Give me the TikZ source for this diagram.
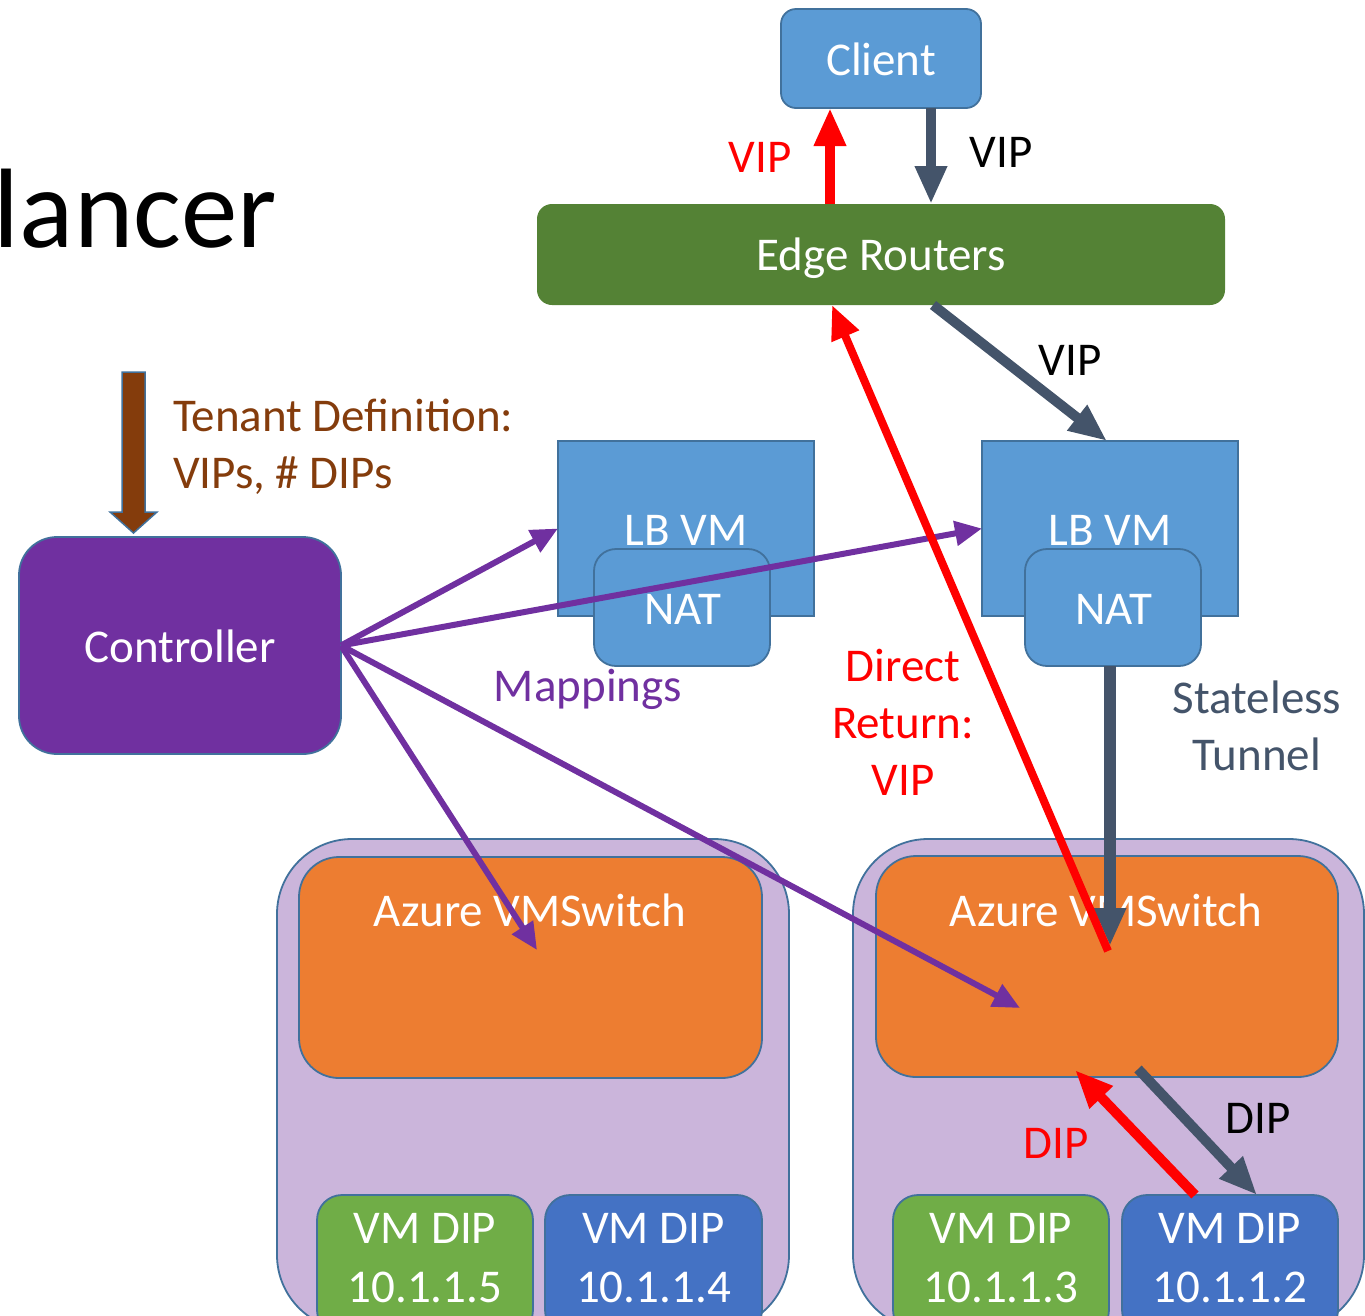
\documentclass[tikz,border=0pt]{standalone}
\usepackage{fontspec}
\setmainfont{Carlito}
\usetikzlibrary{arrows.meta}

\definecolor{boxblue}{HTML}{5B9BD5}
\definecolor{edgeblue}{HTML}{41719C}
\definecolor{routergreen}{HTML}{548235}
\definecolor{ctrlpurple}{HTML}{7030A0}
\definecolor{hostlilac}{HTML}{CBB5DB}
\definecolor{switchorange}{HTML}{ED7D31}
\definecolor{vmgreen}{HTML}{70AD47}
\definecolor{vmblue}{HTML}{4472C4}
\definecolor{slate}{HTML}{44546A}
\definecolor{tenantbrown}{HTML}{843C0C}

\newcommand\setfs[1]{\fontsize{#1}{#1}\selectfont}

\tikzset{
  panel/.style={draw=edgeblue, line width=1.8pt, inner sep=0pt, outer sep=0pt},
  bluebox/.style={panel, fill=boxblue},
  lbl/.style={inner sep=0pt, outer sep=0pt, anchor=base, font=\setfs{47}},
  wlbl/.style={lbl, text=white},
  dkarrow/.style={draw=slate, line width=10pt, -{Triangle[length=38pt,width=30pt]}},
  rdarrow/.style={draw=red, line width=10pt, -{Triangle[length=38pt,width=30pt]}},
  thinred/.style={draw=red, line width=8pt, -{Triangle[length=34pt,width=28pt]}},
  mparrow/.style={draw=ctrlpurple, line width=6pt, -{Triangle[length=27pt,width=24pt]}},
}

\begin{document}
\begin{tikzpicture}[x=1pt,y=-1pt]
\useasboundingbox (0,0) rectangle (1365,1315);
\clip (0,0) rectangle (1365,1315);

% slide title fragment
\node[lbl, anchor=base west, font=\setfs{113}] (title) at (-6,247) {lancer};

% host containers with their virtual switches
\node[panel, fill=hostlilac, rounded corners=75pt, minimum width=512pt, minimum height=491pt] (hostL) at (533,1084.5) {};
\node[panel, fill=hostlilac, rounded corners=75pt, minimum width=511pt, minimum height=491pt] (hostR) at (1108.5,1084.5) {};
\node[panel, fill=switchorange, rounded corners=40pt, minimum width=463pt, minimum height=221pt] (swL) at (530.5,967.5) {};
\node[panel, fill=switchorange, rounded corners=40pt, minimum width=462pt, minimum height=221pt] (swR) at (1107,966.5) {};
\node[wlbl] (swLtxt) at (530,926) {Azure VMSwitch};
\node[wlbl] (swRtxt) at (1106,926) {Azure VMSwitch};

% tenant VMs
\node[panel, fill=vmgreen, rounded corners=25pt, minimum width=216pt, minimum height=140pt] (vm5) at (425,1265) {};
\node[panel, fill=vmblue, rounded corners=25pt, minimum width=217pt, minimum height=140pt] (vm4) at (653.5,1265) {};
\node[panel, fill=vmgreen, rounded corners=25pt, minimum width=216pt, minimum height=140pt] (vm3) at (1001,1265) {};
\node[panel, fill=vmblue, rounded corners=25pt, minimum width=216pt, minimum height=140pt] (vm2) at (1230,1265) {};
\node[wlbl] (vm5a) at (425,1243) {VM DIP};
\node[wlbl] (vm5b) at (425,1302) {10.1.1.5};
\node[wlbl] (vm4a) at (653.5,1243) {VM DIP};
\node[wlbl] (vm4b) at (653.5,1302) {10.1.1.4};
\node[wlbl] (vm3a) at (1001,1243) {VM DIP};
\node[wlbl] (vm3b) at (1001,1302) {10.1.1.3};
\node[wlbl] (vm2a) at (1230,1243) {VM DIP};
\node[wlbl] (vm2b) at (1230,1302) {10.1.1.2};

% client and edge routers
\node[bluebox, rounded corners=15pt, minimum width=200pt, minimum height=99pt] (client) at (881,58.5) {};
\node[wlbl] (clienttxt) at (881,75) {Client};
\node[fill=routergreen, rounded corners=15pt, inner sep=0pt, outer sep=0pt, minimum width=688pt, minimum height=101pt] (er) at (881,254.5) {};
\node[wlbl] (ertxt) at (881,270) {Edge Routers};

% controller
\node[panel, fill=ctrlpurple, rounded corners=38pt, minimum width=322pt, minimum height=217pt] (ctrl) at (180,645.5) {};
\node[wlbl] (ctrltxt) at (180,662) {Controller};

% load balancer VMs with NAT
\node[bluebox, minimum width=256pt, minimum height=175pt] (lb1) at (686,528.5) {};
\node[wlbl] (lb1txt) at (686,545) {LB VM};
\node[bluebox, rounded corners=22pt, minimum width=176pt, minimum height=117pt] (nat1) at (682,607.5) {};
\node[wlbl] (nat1txt) at (683,624) {NAT};
\node[bluebox, minimum width=256pt, minimum height=175pt] (lb2) at (1110,528.5) {};
\node[wlbl] (lb2txt) at (1110,545) {LB VM};
\node[bluebox, rounded corners=22pt, minimum width=176pt, minimum height=117pt] (nat2) at (1113,607.5) {};
\node[wlbl] (nat2txt) at (1114,624) {NAT};

% tenant definition input
\coordinate (tenanttip) at (133.5,533);
\draw[fill=tenantbrown, draw=edgeblue, line width=1.5pt]
  (tenanttip) -- ++(-23.5,-21) -- ++(12,0) -- ++(0,-140) -- ++(23,0)
  -- ++(0,140) -- ++(12,0) -- cycle;
\node[lbl, anchor=base west, text=tenantbrown] (tenant1) at (173,431) {Tenant Definition:};
\node[lbl, anchor=base west, text=tenantbrown] (tenant2) at (173,488) {VIPs, \# DIPs};

% labels
\node[lbl, text=red] (vipret) at (760,172) {VIP};
\node[lbl] (vipin) at (1001,167) {VIP};
\node[lbl] (viplb) at (1070,375) {VIP};
\node[lbl, text=ctrlpurple] (maps) at (588,701) {Mappings};
\node[lbl, text=red] (dr1) at (903,681) {Direct};
\node[lbl, text=red] (dr2) at (903,738) {Return:};
\node[lbl, text=red] (dr3) at (903,795) {VIP};
\node[lbl, text=slate] (st1) at (1257,713) {Stateless};
\node[lbl, text=slate] (st2) at (1257,770) {Tunnel};
\node[lbl, text=red] (dipred) at (1056,1158) {DIP};
\node[lbl] (dipblk) at (1258,1133) {DIP};

% connectors
\coordinate (mapL) at (537,950);
\coordinate (mapR) at (1020,1008);
\coordinate (tunend) at (1110,946);
\coordinate (retstart) at (1108,951);
\coordinate (dipout) at (1138,1069);
\coordinate (dipback) at (1075,1070);

\draw[dkarrow] ([xshift=50pt]client.south) -- ([xshift=50pt]er.north);
\draw[rdarrow] ([xshift=-51pt]er.north) -- ([xshift=-51pt]client.south);
\draw[dkarrow] ([xshift=52pt]er.south) -- ([xshift=-3pt]lb2.north);

\draw[mparrow] (ctrl.east) -- (lb1.west);
\draw[mparrow] (ctrl.east) -- (lb2.west);
\draw[mparrow] (ctrl.east) -- (mapL);
\draw[mparrow] (ctrl.east) -- (mapR);

\draw[dkarrow, line width=12pt] ([xshift=-3pt]nat2.south) -- (tunend);
\draw[thinred] (retstart) -- ([xshift=-49pt]er.south);

\draw[dkarrow] (dipout) -- ([xshift=27pt]vm2.north);
\draw[rdarrow] ([xshift=-35pt]vm2.north) -- (dipback);
\end{tikzpicture}
\end{document}
